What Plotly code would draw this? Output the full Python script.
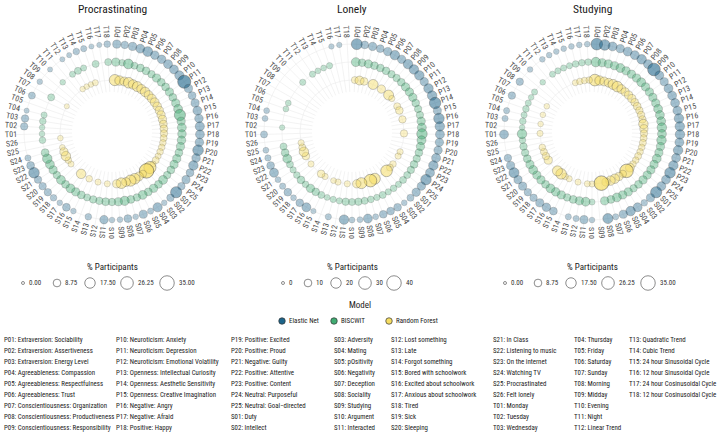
import math
import plotly.graph_objects as go

W, H = 719, 432

P_FEATURES = ["P01", "P02", "P03", "P04", "P05", "P06", "P07", "P08", "P09", "P10",
              "P11", "P12", "P13", "P14", "P15", "P16", "P17", "P18", "P19", "P20",
              "P21", "P22", "P23", "P24", "P25"]
S_FEATURES = ["S01", "S02", "S03", "S04", "S05", "S06", "S07", "S08", "S09", "S10",
              "S11", "S12", "S13", "S14", "S15", "S16", "S17", "S18", "S19", "S20",
              "S21", "S22", "S23", "S24", "S25", "S26"]
T_FEATURES = ["T01", "T02", "T03", "T04", "T05", "T06", "T07", "T08", "T09", "T10",
              "T11", "T12", "T13", "T14", "T15", "T16", "T17", "T18"]
FEATURES = P_FEATURES + S_FEATURES + T_FEATURES

MODELS = ["Random Forest", "BISCWIT", "Elastic Net"]        # inner -> outer ring
LEGEND_MODELS = ["Elastic Net", "BISCWIT", "Random Forest"]
MODEL_RGB = {"Elastic Net": (28, 100, 138), "BISCWIT": (64, 172, 114), "Random Forest": (246, 221, 98)}

OUTCOMES = ["Procrastinating", "Lonely", "Studying"]
SIZE_MAX = [35, 40, 35]
SIZE_BREAKS = [[0, 8.75, 17.5, 26.25, 35], [0, 10, 20, 30, 40], [0, 8.75, 17.5, 26.25, 35]]
SIZE_BREAK_LABELS = [["0.00", "8.75", "17.50", "26.25", "35.00"], ["0", "10", "20", "30", "40"],
                     ["0.00", "8.75", "17.50", "26.25", "35.00"]]

# % participants per feature (P01-P25, S01-S26, T01-T18); None = not in model
PROC_EN = [10, 8, 10, 12, 15, 11, 11, 12, 12, 13, 28, 10, 9, 10, 12, 11, 13, 12, 11, 18, 11, 14, 9, 10, 8,
           20, 8, 4, 13, 5, 10, 4, 9, 4, 4, 11, None, 6, None, 4, 9, 4, 6, 8, 8, 8, 18, 9, 5, None, None,
           None, 8, 8, 3, None, 7, None, 4, None, 3, None, 3, 3, 6, 5, 3, 3, 6]
PROC_BI = [10, 6, 15, 7, 9, 9, 8, 10, 9, 9, 10, 9, 10, 12, 20, 10, 12, 11, 11, 10, 9, 10, 10, 9, 8,
           12, 9, 10, 9, 12, 8, 9, 13, 10, 8, 9, 8, 8, 7, 9, 10, 12, 9, 12, 8, 10, 12, 14, 9, None, 6,
           4, 4, 6, 5, None, None, 7, None, None, 4, None, 5, 7, 5, None, 7, None, 7]
PROC_RF = [20, 14, 12, 18, 14, 16, 13, 14, 12, 12, 12, 11, 10, 10, 10, 9, 9, 8, 7, 6, 6, 6, 5, 7, 5,
           24, 35, 8, 12, 18, 20, 12, 18, 10, None, 5, None, 5, None, 6, None, 14, None, None, 5, 6, 14, 10, 4, None, 4,
           None, None, None, None, None, None, 3, None, None, None, None, 4, 4, 4, 5, None, None, None]

LONE_EN = [22, 10, 12, 10, 12, 16, 12, 16, 16, 16, 12, 16, 16, 24, 11, 20, 16, 14, 12, 12, 14, 16, 14, 20, 12,
           12, 8, 5, 10, 10, 10, 5, 14, 5, 5, 16, None, 6, None, 4, 14, 10, 5, 10, 6, 5, 14, 10, 6, 5, None,
           8, None, 5, 5, None, None, None, None, None, None, None, None, None, None, None, 4, 4, None]
LONE_BI = [14, 10, 12, 10, 10, 10, 9, 9, 10, 12, 12, 12, 10, 9, 9, 12, 14, 20, 14, 12, 10, 9, 10, 9, 8,
           8, 6, 7, 6, 8, 6, 7, 8, 9, 8, 9, 6, 6, 5, 8, 10, 12, 7, 10, 7, 6, 8, 14, 10, 8, None,
           None, 4, None, None, 5, 5, None, None, None, 6, None, 6, 5, 5, 6, None, None, None]
LONE_RF = [8, 14, 10, None, 18, None, 12, None, 18, 6, None, 8, 10, None, 9, None, None, 9, None, None, None, 6, 6, None, 7,
           8, 25, None, None, 22, 30, None, 22, 12, None, 6, None, 6, 5, None, 6, 10, None, None, 6, None, 10, 16, 8, 6, None,
           None, None, None, None, None, None, None, None, None, None, None, None, None, None, None, None, None, None]

STUD_EN = [22, 18, 12, 10, 12, 12, 14, 12, 26, 12, 10, 12, 12, 12, 12, 14, 14, 14, 12, 14, 12, 14, 18, 12, 12,
           20, 10, 6, 12, 14, 10, 5, 16, None, 4, 10, 5, 5, None, 9, 11, 10, 8, 8, 10, 10, 16, 10, 8, None, None,
           12, None, 5, 5, None, 8, None, 8, None, 4, None, 4, 4, 4, 4, 4, 4, 4]
STUD_BI = [14, 10, 10, 10, 12, 10, 10, 10, 12, 10, 10, 10, 10, 12, 12, 12, 14, 12, 14, 10, 10, 12, 10, 10, 10,
           10, 9, 8, 10, 10, 12, 9, 10, None, 5, 12, 10, 9, 8, 10, 11, 12, 9, 10, 10, 12, 10, 9, 8, 8, 6,
           14, 4, 6, 5, 6, 5, 4, 5, None, 4, None, 5, 5, 5, 5, 6, 6, 6]
STUD_RF = [22, 14, 12, 12, 16, 18, 12, 10, 10, 10, 9, 9, 8, 8, 8, 14, 10, 8, 7, 7, 6, 6, 7, 6, 6,
           12, 30, 8, 10, 14, 14, 10, 35, None, 5, 5, None, 5, None, 5, 6, 18, 16, None, None, 10, 8, 7, 6, None, None,
           5, None, 4, None, 4, None, 4, None, None, None, None, None, None, None, 5, 6, 6, 6]

DATA = {
    "Procrastinating": {"Elastic Net": PROC_EN, "BISCWIT": PROC_BI, "Random Forest": PROC_RF},
    "Lonely": {"Elastic Net": LONE_EN, "BISCWIT": LONE_BI, "Random Forest": LONE_RF},
    "Studying": {"Elastic Net": STUD_EN, "BISCWIT": STUD_BI, "Random Forest": STUD_RF},
}

DESCRIPTIONS = [
    ["P01: Extraversion: Sociability", "P02: Extraversion: Assertiveness", "P03: Extraversion: Energy Level",
     "P04: Agreeableness: Compassion", "P05: Agreeableness: Respectfulness", "P06: Agreeableness: Trust",
     "P07: Conscientiousness: Organization", "P08: Conscientiousness: Productiveness",
     "P09: Conscientiousness: Responsibility"],
    ["P10: Neuroticism: Anxiety", "P11: Neuroticism: Depression", "P12: Neuroticism: Emotional Volatility",
     "P13: Openness: Intellectual Curiosity", "P14: Openness: Aesthetic Sensitivity",
     "P15: Openness: Creative Imagination", "P16: Negative: Angry", "P17: Negative: Afraid", "P18: Positive: Happy"],
    ["P19: Positive: Excited", "P20: Positive: Proud", "P21: Negative: Guilty", "P22: Positive: Attentive",
     "P23: Positive: Content", "P24: Neutral: Purposeful", "P25: Neutral: Goal\u2212directed", "S01: Duty",
     "S02: Intellect"],
    ["S03: Adversity", "S04: Mating", "S05: pOsitivity", "S06: Negativity", "S07: Deception", "S08: Sociality",
     "S09: Studying", "S10: Argument", "S11: Interacted"],
    ["S12: Lost something", "S13: Late", "S14: Forgot something", "S15: Bored with schoolwork",
     "S16: Excited about schoolwork", "S17: Anxious about schoolwork", "S18: Tired", "S19: Sick", "S20: Sleeping"],
    ["S21: In Class", "S22: Listening to music", "S23: On the internet", "S24: Watching TV", "S25: Procrastinated",
     "S26: Felt lonely", "T01: Monday", "T02: Tuesday", "T03: Wednesday"],
    ["T04: Thursday", "T05: Friday", "T06: Saturday", "T07: Sunday", "T08: Morning", "T09: Midday",
     "T10: Evening", "T11: Night", "T12: Linear Trend"],
    ["T13: Quadratic Trend", "T14: Cubic Trend", "T15: 24 hour Sinusoidal Cycle", "T16: 12 hour Sinusoidal Cycle",
     "T17: 24 hour Cosinusoidal Cycle", "T18: 12 hour Cosinusoidal Cycle"],
]

# ---------------- layout constants ----------------
FONT = "Roboto Condensed, Roboto, sans-serif"
PANEL_CX = [112, 352, 592]
PANEL_CY = 132
R_OUT = 96
R_HOLE = 40
R_LABEL = 101
PERIOD = 69.2
OFFSET = 0.6
DMIN, DMAX = 3.0, 14.5
LEG_X = [[23, 57, 90, 127, 167], [283, 308, 336, 365, 394], [505, 538, 571, 608, 648]]
LEG_Y = 283
DESC_X = [3, 115, 230, 333, 390, 492, 573, 628]
DESC_Y0, DESC_DY = 339.5, 11.0


def size_px(v, vmax):
    return math.sqrt(DMIN ** 2 + (DMAX ** 2 - DMIN ** 2) * max(v, 0) / vmax)


def fill_rgba(rgb, v, vmax):
    a = 0.35 + 0.65 * min(v / vmax, 1.0)
    return "rgba(%d,%d,%d,%.3f)" % (rgb[0], rgb[1], rgb[2], a)


def line_rgba(v, vmax):
    a = 0.25 + 0.6 * min(v / vmax, 1.0)
    return "rgba(35,35,35,%.3f)" % a


fig = go.Figure()
annotations = []

for k, outcome in enumerate(OUTCOMES):
    pname = "polar" if k == 0 else "polar%d" % (k + 1)
    vmax = SIZE_MAX[k]
    for model in MODELS:
        vals = DATA[outcome][model]
        th = [f for f, v in zip(FEATURES, vals) if v is not None]
        vv = [v for v in vals if v is not None]
        fig.add_trace(go.Scatterpolar(
            r=[model] * len(vv), theta=th, mode="markers", subplot=pname,
            marker=dict(size=[size_px(v, vmax) for v in vv],
                        color=[fill_rgba(MODEL_RGB[model], v, vmax) for v in vv],
                        line=dict(color=[line_rgba(v, vmax) for v in vv], width=0.7)),
            hoverinfo="skip", showlegend=False))

    cx = PANEL_CX[k]
    dom_x = [(cx - R_OUT) / W, (cx + R_OUT) / W]
    dom_y = [(H - PANEL_CY - R_OUT) / H, (H - PANEL_CY + R_OUT) / H]
    fig.update_layout(**{pname: dict(
        domain=dict(x=dom_x, y=dom_y),
        hole=R_HOLE / R_OUT,
        bgcolor="white",
        angularaxis=dict(type="category", categoryorder="array", categoryarray=FEATURES,
                         period=PERIOD, rotation=90 - OFFSET * 360 / PERIOD, direction="clockwise",
                         showgrid=True, gridcolor="#ebebeb", gridwidth=0.6, showline=False,
                         ticks="", showticklabels=False),
        radialaxis=dict(type="category", categoryorder="array", categoryarray=MODELS,
                        range=[-2 / 3, 2 + (R_OUT - 88) / 18], showgrid=True, gridcolor="#ebebeb",
                        gridwidth=0.6, showline=False, ticks="", showticklabels=False),
    )})

    # feature labels, radial orientation
    for i, f in enumerate(FEATURES):
        ang = (i + OFFSET) * 360 / PERIOD
        rad = math.radians(ang)
        px = cx + R_LABEL * math.sin(rad)
        py = PANEL_CY - R_LABEL * math.cos(rad)
        tang = ang - 90 if ang <= 180 else ang - 270
        annotations.append(dict(x=px / W, y=1 - py / H, xref="paper", yref="paper", text=f,
                                showarrow=False, textangle=tang, xanchor="center", yanchor="middle",
                                font=dict(family=FONT, size=8.0, color="#4d4d4d")))

    # panel title
    annotations.append(dict(x=cx / W, y=1 - 9 / H, xref="paper", yref="paper", text=outcome,
                            showarrow=False, xanchor="center", yanchor="middle",
                            font=dict(family=FONT, size=11.5, color="#1a1a1a")))
    # size legend
    annotations.append(dict(x=cx, y=267, xref="x", yref="y", text="% Participants", showarrow=False,
                            xanchor="center", yanchor="middle",
                            font=dict(family=FONT, size=9.0, color="#1a1a1a")))
    brk_sizes = [size_px(b, vmax) for b in SIZE_BREAKS[k]]
    fig.add_trace(go.Scatter(x=LEG_X[k], y=[LEG_Y] * 5, mode="markers", xaxis="x", yaxis="y",
                             marker=dict(size=brk_sizes, color="white",
                                         line=dict(color="#333333", width=0.8)),
                             hoverinfo="skip", showlegend=False))
    for xb, sb, lab in zip(LEG_X[k], brk_sizes, SIZE_BREAK_LABELS[k]):
        annotations.append(dict(x=xb + sb / 2 + 2.5, y=LEG_Y, xref="x", yref="y", text=lab, showarrow=False,
                                xanchor="left", yanchor="middle",
                                font=dict(family=FONT, size=7.0, color="#333333")))

# model legend
annotations.append(dict(x=360, y=305, xref="x", yref="y", text="Model", showarrow=False,
                        xanchor="center", yanchor="middle",
                        font=dict(family=FONT, size=9.0, color="#1a1a1a")))
MODEL_LEG_X = [282, 334, 389]
fig.add_trace(go.Scatter(x=MODEL_LEG_X, y=[321] * 3, mode="markers", xaxis="x", yaxis="y",
                         marker=dict(size=6.5, color=["rgb(%d,%d,%d)" % MODEL_RGB[m] for m in LEGEND_MODELS],
                                     line=dict(color="#333333", width=0.7)),
                         hoverinfo="skip", showlegend=False))
for xm, m in zip(MODEL_LEG_X, LEGEND_MODELS):
    annotations.append(dict(x=xm + 5, y=321, xref="x", yref="y", text=m, showarrow=False,
                            xanchor="left", yanchor="middle", font=dict(family=FONT, size=7.0, color="#1a1a1a")))

# feature descriptions
for cx_d, col in zip(DESC_X, DESCRIPTIONS):
    for j, txt in enumerate(col):
        annotations.append(dict(x=cx_d, y=DESC_Y0 + j * DESC_DY, xref="x", yref="y", text=txt,
                                showarrow=False, xanchor="left", yanchor="middle", borderpad=0,
                                font=dict(family=FONT, size=6.9, color="#1a1a1a")))

fig.update_layout(
    width=W, height=H, margin=dict(l=0, r=0, t=0, b=0),
    paper_bgcolor="white", plot_bgcolor="rgba(0,0,0,0)", showlegend=False,
    xaxis=dict(domain=[0, 1], range=[0, W], visible=False, fixedrange=True),
    yaxis=dict(domain=[0, 1], range=[H, 0], visible=False, fixedrange=True),
    annotations=annotations,
)

fig.write_html("out.html", config={"displayModeBar": False, "staticPlot": True},
               post_script="document.body.style.margin='0px';document.body.style.overflow='hidden';")
